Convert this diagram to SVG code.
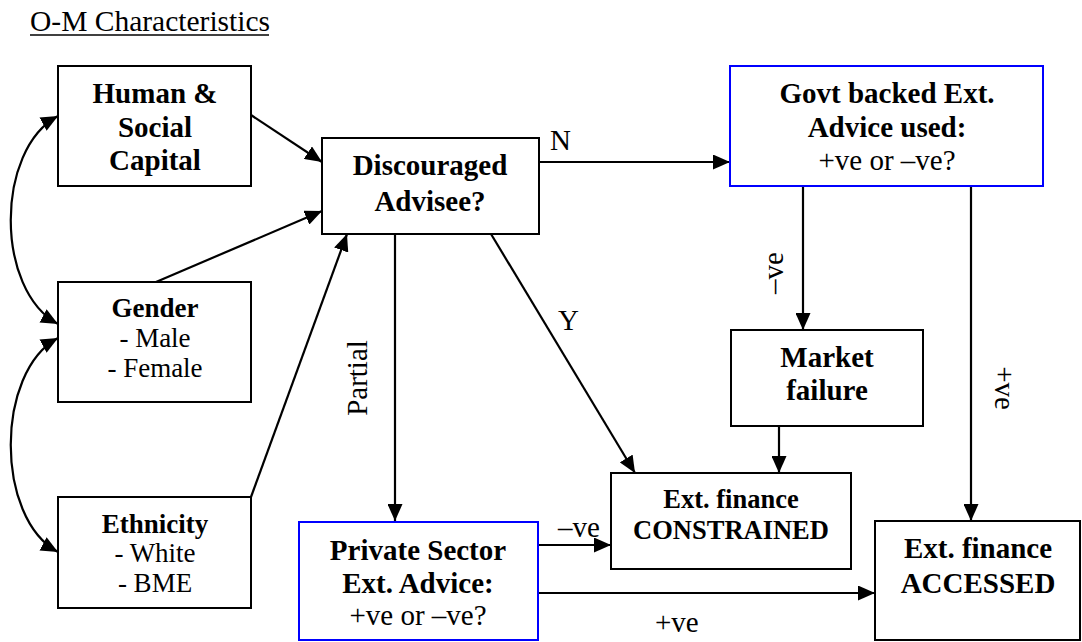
<svg xmlns="http://www.w3.org/2000/svg" width="1082" height="642" viewBox="0 0 1082 642">
<defs>
<marker id="ah" markerUnits="userSpaceOnUse" markerWidth="18" markerHeight="15" refX="17" refY="7.5" orient="auto-start-reverse" viewBox="0 0 18 15">
<path d="M0,0 L17,7.5 L0,15 z" fill="#000"/>
</marker>
<style>
.box{fill:#fff;stroke:#000;stroke-width:2}
.blue{fill:#fff;stroke:#0000ff;stroke-width:2}
.b{font-family:"Liberation Serif","Times New Roman",serif;font-weight:bold;font-size:29px;text-anchor:middle;fill:#000}
.r{font-family:"Liberation Serif","Times New Roman",serif;font-size:29px;text-anchor:middle;fill:#000}
.s{font-family:"Liberation Serif","Times New Roman",serif;font-size:27px;text-anchor:middle;fill:#000}
.lbl{font-family:"Liberation Serif","Times New Roman",serif;font-size:29px;fill:#000}
.c{fill:none;stroke:#000;stroke-width:2.2;marker-end:url(#ah)}
.cc{fill:none;stroke:#000;stroke-width:2.2;marker-end:url(#ah);marker-start:url(#ah)}
</style>
</defs>
<rect width="1082" height="642" fill="#fff"/>
<g id="title">
<text x="30" y="31" class="lbl" style="font-size:29.5px">O-M Characteristics</text>
<line x1="30" y1="35" x2="269" y2="35" stroke="#000" stroke-width="1.5"/>
</g>
<g id="connectors">
<line class="c" x1="251" y1="115" x2="322" y2="162"/>
<line class="c" x1="156" y1="282" x2="322" y2="211"/>
<line class="c" x1="251" y1="497" x2="347" y2="234"/>
<line class="c" x1="539" y1="162" x2="730" y2="162"/>
<line class="c" x1="395" y1="234" x2="395" y2="521"/>
<line class="c" x1="491" y1="234" x2="635" y2="473"/>
<line class="c" x1="803" y1="186" x2="803" y2="330"/>
<line class="c" x1="971" y1="186" x2="971" y2="521"/>
<line class="c" x1="779" y1="426" x2="779" y2="473"/>
<line class="c" x1="539" y1="545" x2="611" y2="545"/>
<line class="c" x1="539" y1="593" x2="875" y2="593"/>
<path class="cc" d="M58,116 C -5,150 -5,290 58,324"/>
<path class="cc" d="M58,338 C -5,372 -5,518 58,552"/>
<text class="lbl" x="550" y="150">N</text>
<text class="lbl" x="558" y="330">Y</text>
<text class="lbl" x="0" y="0" text-anchor="middle" transform="translate(367,378) rotate(-90)">Partial</text>
<text class="lbl" x="0" y="0" text-anchor="middle" transform="translate(783,273) rotate(-90)">–ve</text>
<text class="lbl" x="0" y="0" text-anchor="middle" transform="translate(995,388) rotate(90)">+ve</text>
<text class="lbl" x="558" y="537">–ve</text>
<text class="lbl" x="655" y="632">+ve</text>
</g>
<g id="human">
<rect class="box" x="58" y="66" width="193" height="120"/>
<text class="b" x="155" y="103">Human &amp;</text>
<text class="b" x="155" y="137">Social</text>
<text class="b" x="155" y="170">Capital</text>
</g>
<g id="gender">
<rect class="box" x="58" y="282" width="193" height="120"/>
<text class="b" x="155" y="317" style="font-size:27px">Gender</text>
<text class="s" x="155" y="347">- Male</text>
<text class="s" x="155" y="377">- Female</text>
</g>
<g id="ethnicity">
<rect class="box" x="58" y="497" width="193" height="111"/>
<text class="b" x="155" y="533" style="font-size:27px">Ethnicity</text>
<text class="s" x="155" y="562">- White</text>
<text class="s" x="155" y="592">- BME</text>
</g>
<g id="discouraged">
<rect class="box" x="322" y="138" width="217" height="96"/>
<text class="b" x="430" y="175">Discouraged</text>
<text class="b" x="430" y="211">Advisee?</text>
</g>
<g id="govt">
<rect class="blue" x="730" y="66" width="313" height="120"/>
<text class="b" x="887" y="103">Govt backed Ext.</text>
<text class="b" x="887" y="137">Advice used:</text>
<text class="r" x="887" y="170">+ve or –ve?</text>
</g>
<g id="market">
<rect class="box" x="731" y="330" width="192" height="96"/>
<text class="b" x="827" y="367">Market</text>
<text class="b" x="827" y="400">failure</text>
</g>
<g id="constrained">
<rect class="box" x="611" y="473" width="240" height="96"/>
<text class="b" x="731" y="508" style="font-size:26.5px">Ext. finance</text>
<text class="b" x="731" y="539" style="font-size:26.5px">CONSTRAINED</text>
</g>
<g id="private">
<rect class="blue" x="299" y="522" width="239" height="118"/>
<text class="b" x="418" y="560">Private Sector</text>
<text class="b" x="418" y="593">Ext. Advice:</text>
<text class="r" x="418" y="625">+ve or –ve?</text>
</g>
<g id="accessed">
<rect class="box" x="875" y="521" width="205" height="119"/>
<text class="b" x="978" y="558">Ext. finance</text>
<text class="b" x="978" y="593">ACCESSED</text>
</g>
</svg>
